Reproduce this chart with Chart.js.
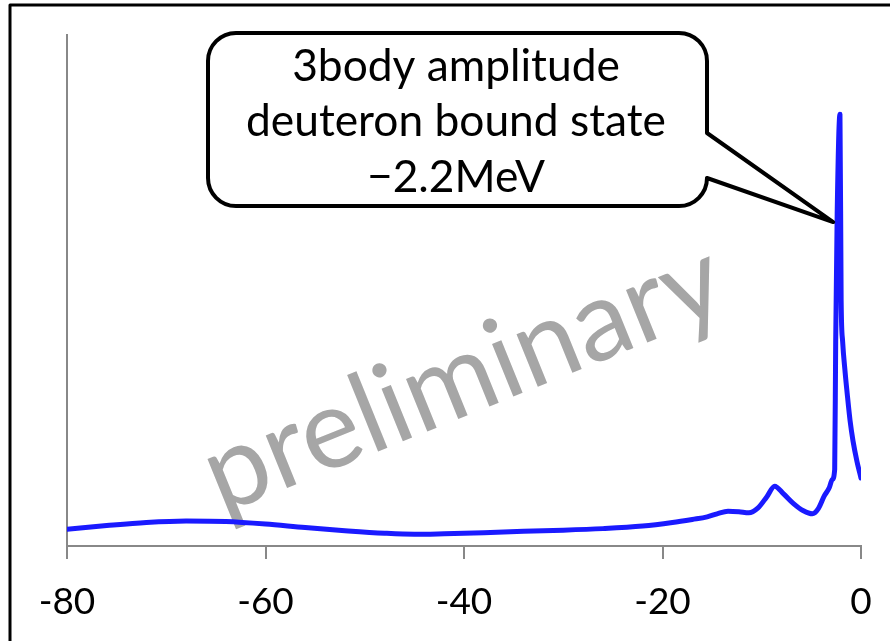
<!DOCTYPE html>
<html>
<head>
<meta charset="utf-8">
<script src="https://cdn.jsdelivr.net/npm/chart.js@4.4.1/dist/chart.umd.min.js"></script>
<style>
  body { margin: 0; background: #fff; }
  canvas { display: block; }
</style>
</head>
<body>
<canvas id="amp-chart" width="890" height="641"></canvas>
<script>
// energy (MeV) and amplitude (arbitrary units)
const energies = [-80, -76, -72, -68, -64, -60, -56, -52, -48, -45, -42, -38, -34, -30, -26, -22, -19, -17,
  -15.5, -14.5, -13.4, -12.3, -11.3, -10.4, -9.5, -8.7, -7.8, -6.8, -5.8, -4.9, -4.3, -3.7, -3.2, -2.9,
  -2.65, -2.55, -2.4, -2.12, -2.0, -1.85, -1.6, -1.4, -1.1, -0.8, -0.4, 0];
const amplitudes = [3.3, 4.0, 4.6, 4.9, 4.8, 4.3, 3.6, 3.0, 2.5, 2.3, 2.4, 2.6, 2.9, 3.1, 3.4, 3.9, 4.6, 5.2,
  5.7, 6.3, 6.8, 6.7, 6.5, 7.4, 9.6, 11.7, 10.2, 8.3, 6.9, 6.3, 7.3, 9.8, 11.4, 13,
  15, 40, 65, 84.5, 48, 40, 34, 30, 24.5, 20.5, 16.5, 13.3];
const xTicks = [-80, -60, -40, -20, 0];
const calloutLines = ['3body amplitude', 'deuteron bound state', '\u22122.2MeV'];
const watermark = 'preliminary';

const FONT = 'Lato, "Open Sans", sans-serif';

// grey watermark behind the curve
const watermarkPlugin = {
  id: 'watermark',
  beforeDatasetsDraw(chart) {
    const ctx = chart.ctx;
    ctx.save();
    ctx.font = '100px ' + FONT;
    const w = ctx.measureText(watermark).width;
    const size = 100 * 550 / w;
    ctx.font = size + 'px ' + FONT;
    ctx.fillStyle = '#a6a6a6';
    ctx.textAlign = 'center';
    ctx.textBaseline = 'middle';
    ctx.translate(463, 378);
    ctx.rotate(-22 * Math.PI / 180);
    ctx.fillText(watermark, 0, 0);
    ctx.restore();
  }
};

// speech bubble pointing at the bound state peak, plus the frame
const calloutPlugin = {
  id: 'callout',
  afterDraw(chart) {
    const ctx = chart.ctx;
    const xs = chart.scales.x, ys = chart.scales.y;
    const tipX = xs.getPixelForValue(-2.8);
    const tipY = ys.getPixelForValue(63.4);
    const L = 208, R = 707, T = 33, B = 206, r = 28;

    ctx.save();
    ctx.beginPath();
    ctx.moveTo(L + r, T);
    ctx.lineTo(R - r, T);
    ctx.arcTo(R, T, R, T + r, r);
    ctx.lineTo(R, 133);
    ctx.lineTo(tipX, tipY);
    ctx.lineTo(R, B - r);
    ctx.arcTo(R, B, R - r, B, r);
    ctx.lineTo(L + r, B);
    ctx.arcTo(L, B, L, B - r, r);
    ctx.lineTo(L, T + r);
    ctx.arcTo(L, T, L + r, T, r);
    ctx.closePath();
    ctx.fillStyle = '#fff';
    ctx.fill();
    ctx.lineWidth = 4;
    ctx.lineJoin = 'round';
    ctx.strokeStyle = '#000';
    ctx.stroke();

    ctx.font = '40px ' + FONT;
    const size = 40 * 420 / ctx.measureText(calloutLines[1]).width;
    ctx.font = size + 'px ' + FONT;
    ctx.fillStyle = '#000';
    ctx.textAlign = 'center';
    ctx.textBaseline = 'middle';
    const lineY = [67, 122, 178];
    calloutLines.forEach((t, i) => ctx.fillText(t, 456, lineY[i]));

    // outer frame (top and left edges show)
    ctx.strokeStyle = '#000';
    ctx.lineWidth = 3;
    ctx.beginPath();
    ctx.moveTo(10, 641);
    ctx.lineTo(10, 5);
    ctx.lineTo(890, 5);
    ctx.stroke();
    ctx.restore();
  }
};

new Chart(document.getElementById('amp-chart'), {
  type: 'line',
  data: {
    datasets: [{
      data: energies.map((e, i) => ({ x: e, y: amplitudes[i] })),
      borderColor: '#1a1aff',
      borderWidth: 5,
      pointRadius: 0,
      cubicInterpolationMode: 'monotone',
      borderCapStyle: 'round',
      borderJoinStyle: 'round'
    }]
  },
  options: {
    responsive: false,
    animation: false,
    layout: { padding: { left: 67, right: 29, top: 35, bottom: 0 } },
    plugins: { legend: { display: false }, tooltip: { enabled: false } },
    scales: {
      x: {
        type: 'linear',
        min: -80,
        max: 0,
        afterBuildTicks: s => { s.ticks = xTicks.map(v => ({ value: v })); },
        afterFit: s => { s.height = 95; s.paddingLeft = 0; s.paddingRight = 0; },
        ticks: {
          font: { family: FONT, size: 37 },
          color: '#000',
          padding: 21,
          maxRotation: 0
        },
        grid: { drawOnChartArea: false, tickLength: 13, color: '#888', lineWidth: 2 },
        border: { color: '#888', width: 2 }
      },
      y: {
        min: 0,
        max: 100,
        afterFit: s => { s.width = 0; },
        ticks: { display: false },
        grid: { display: false },
        border: { display: true, color: '#888', width: 2 }
      }
    }
  },
  plugins: [watermarkPlugin, calloutPlugin]
});
</script>
</body>
</html>
